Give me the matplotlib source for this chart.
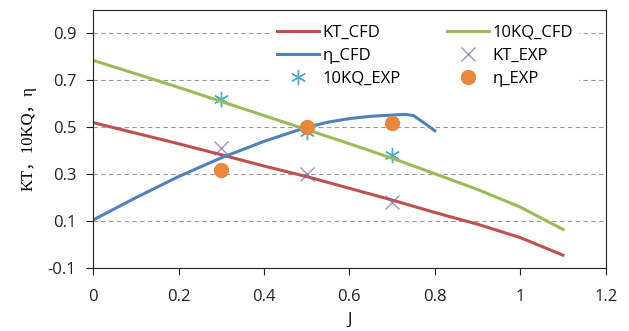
import matplotlib.pyplot as plt

# CFD curves
j_kt = [0, 0.1, 0.2, 0.3, 0.4, 0.5, 0.6, 0.7, 0.8, 0.9, 1.0, 1.1]
kt_cfd = [0.52, 0.475, 0.43, 0.383, 0.335, 0.29, 0.24, 0.19, 0.137, 0.087, 0.03, -0.045]
kq_cfd = [0.785, 0.728, 0.67, 0.61, 0.55, 0.49, 0.43, 0.368, 0.302, 0.235, 0.16, 0.065]

j_eta = [0, 0.1, 0.2, 0.3, 0.4, 0.5, 0.55, 0.6, 0.65, 0.7, 0.73, 0.75, 0.77, 0.8]
eta_cfd = [0.105, 0.2, 0.29, 0.37, 0.44, 0.50, 0.522, 0.537, 0.547, 0.552, 0.555, 0.55, 0.525, 0.485]

# experiment
j_exp = [0.3, 0.5, 0.7]
kt_exp = [0.41, 0.30, 0.18]
kq_exp = [0.62, 0.48, 0.38]
eta_exp = [0.32, 0.50, 0.52]

fig = plt.figure(figsize=(6.29, 3.31), dpi=100)
ax = fig.add_axes([0.148, 0.19, 0.815, 0.78])

ax.plot(j_kt, kt_cfd, color='#C0504D', lw=2.2, label='KT_CFD')
ax.plot(j_eta, eta_cfd, color='#4F81BD', lw=2.2, label='η_CFD')
ax.plot(j_exp, kq_exp, ls='none', marker=(6, 2, 0), ms=11, mew=1, color='#4BACC6', label='10KQ_EXP')
ax.plot(j_kt, kq_cfd, color='#9BBB59', lw=2.2, label='10KQ_CFD')
ax.plot(j_exp, kt_exp, ls='none', marker='x', ms=10, mew=1, color='#8064A2', alpha=0.7, label='KT_EXP')
ax.plot(j_exp, eta_exp, ls='none', marker='o', ms=10, color='#E8873E', label='η_EXP')

ax.set_xlim(0, 1.2)
ax.set_ylim(-0.1, 1.0)
ax.set_xticks([0, 0.2, 0.4, 0.6, 0.8, 1, 1.2])
ax.set_xticklabels(['0', '0.2', '0.4', '0.6', '0.8', '1', '1.2'])
ax.set_yticks([-0.1, 0.1, 0.3, 0.5, 0.7, 0.9])
ax.set_yticklabels(['-0.1', '0.1', '0.3', '0.5', '0.7', '0.9'])
ax.yaxis.grid(True, ls='--', color='#999999', lw=0.8, dashes=(4, 3))
ax.set_axisbelow(True)
ax.tick_params(labelsize=12, colors='#222222', length=5)
ax.tick_params(axis='x', pad=10)
ax.tick_params(axis='y', pad=7)
for lab in ax.get_xticklabels() + ax.get_yticklabels():
    lab.set_family('Open Sans')
for s in ax.spines.values():
    s.set_color('#222222')

ax.set_xlabel('J', fontsize=12, family='Open Sans', labelpad=5)
ax.set_ylabel('KT，10KQ，η', fontsize=12, family=['Liberation Serif', 'Noto Sans CJK SC'], labelpad=8)

leg = ax.legend(ncol=2, loc='upper right', bbox_to_anchor=(0.965, 1.0), frameon=True,
                handlelength=2.5, handletextpad=0.2, columnspacing=2.8, labelspacing=0.42,
                prop={'family': 'Open Sans', 'size': 12})
leg.get_frame().set_edgecolor('none')
leg.get_frame().set_facecolor('white')
leg.get_frame().set_alpha(1)

fig.savefig('out.png', dpi=100)
